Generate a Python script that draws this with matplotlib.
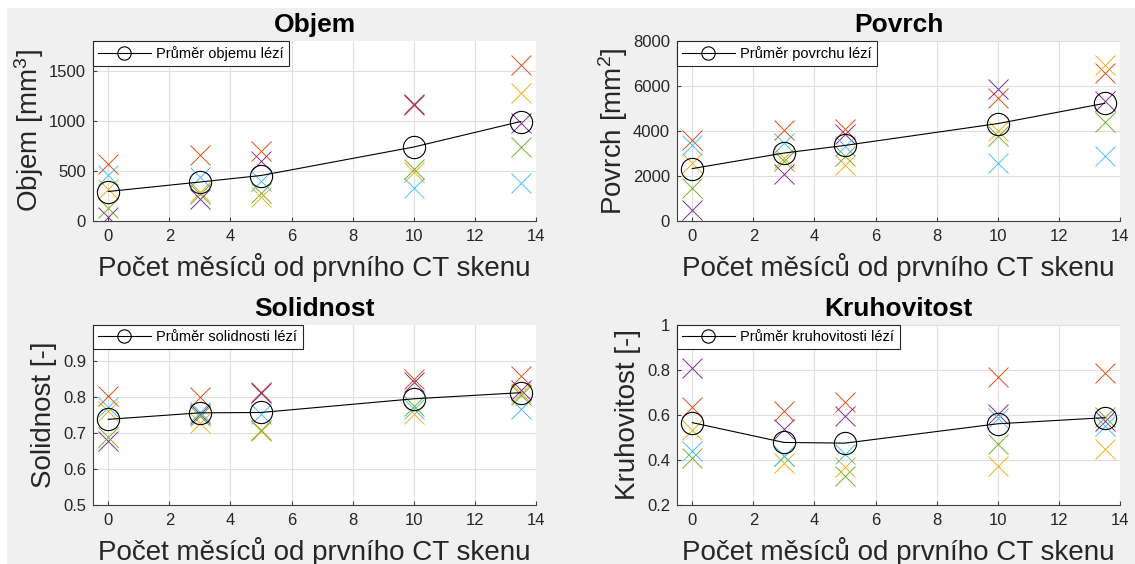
import matplotlib
matplotlib.use("Agg")
import matplotlib.pyplot as plt
from matplotlib.patches import Rectangle

plt.rcParams['font.family'] = ['Liberation Sans', 'DejaVu Sans']
plt.rcParams['mathtext.fontset'] = 'custom'
plt.rcParams['mathtext.rm'] = 'Liberation Sans'
plt.rcParams['mathtext.it'] = 'Liberation Sans'

# months since first CT scan
months = [0, 3, 5, 10, 13.5]

# lesion colours (MATLAB default order, starting at 2nd colour)
lesion_colors = ['#D95319', '#EDB120', '#7E2F8E', '#77AC30', '#4DBEEE']

# Objem [mm^3], one list per lesion
objem = [
    [575, 660, 705, 1160, 1560],
    [325, 290, 240, 490, 1285],
    [45, 225, 605, 1170, 985],
    [135, 270, 285, 520, 740],
    [460, 440, 405, 330, 385],
]
objem_mean = [295, 390, 455, 740, 995]

# Povrch [mm^2]
povrch = [
    [3600, 4050, 4080, 5450, 6600],
    [2600, 2800, 2480, 4000, 6950],
    [480, 2100, 3850, 5850, 5330],
    [1460, 2650, 2880, 3800, 4400],
    [3400, 3450, 3330, 2600, 2900],
]
povrch_mean = [2330, 3020, 3360, 4330, 5230]

# Solidnost [-]
solidnost = [
    [0.802, 0.800, 0.815, 0.850, 0.858],
    [0.760, 0.728, 0.706, 0.752, 0.810],
    [0.678, 0.752, 0.810, 0.843, 0.820],
    [0.690, 0.748, 0.708, 0.775, 0.806],
    [0.772, 0.758, 0.752, 0.768, 0.768],
]
solidnost_mean = [0.738, 0.756, 0.757, 0.795, 0.812]

# Kruhovitost [-]
kruhovitost = [
    [0.635, 0.620, 0.660, 0.768, 0.785],
    [0.535, 0.385, 0.370, 0.372, 0.450],
    [0.810, 0.540, 0.594, 0.605, 0.572],
    [0.410, 0.420, 0.330, 0.470, 0.592],
    [0.440, 0.418, 0.425, 0.588, 0.552],
]
kruhovitost_mean = [0.566, 0.478, 0.475, 0.561, 0.588]

panels = [
    ("Objem", objem, objem_mean, "Objem [mm$^3$]", "Průměr objemu lézí",
     (0, 1800), [0, 500, 1000, 1500], ["0", "500", "1000", "1500"], -0.145),
    ("Povrch", povrch, povrch_mean, "Povrch [mm$^2$]", "Průměr povrchu lézí",
     (0, 8000), [0, 2000, 4000, 6000, 8000],
     ["0", "2000", "4000", "6000", "8000"], -0.145),
    ("Solidnost", solidnost, solidnost_mean, "Solidnost [-]", "Průměr solidnosti lézí",
     (0.5, 1.0), [0.5, 0.6, 0.7, 0.8, 0.9],
     ["0.5", "0.6", "0.7", "0.8", "0.9"], -0.11),
    ("Kruhovitost", kruhovitost, kruhovitost_mean, "Kruhovitost [-]",
     "Průměr kruhovitosti lézí",
     (0.2, 1.0), [0.2, 0.4, 0.6, 0.8, 1.0],
     ["0.2", "0.4", "0.6", "0.8", "1"], -0.11),
]

W, H = 1135, 564
fig = plt.figure(figsize=(W / 100, H / 100), dpi=100, facecolor='white')
fig.patches.append(Rectangle((7 / W, 0), 1, (H - 8) / H, transform=fig.transFigure,
                             facecolor='#f0f0f0', edgecolor='none', zorder=-10))

lefts = [93, 677, 93, 677]
bottoms = [221, 221, 505, 505]
xlabel = "Počet měsíců od prvního CT skenu"

for (title, data, mean, ylab, leg, ylim, yt, ytl, ylx), l, b in zip(panels, lefts, bottoms):
    ax = fig.add_axes([l / W, (H - b) / H, 443 / W, 180 / H])
    ax.set_facecolor('white')
    for vals, c in zip(data, lesion_colors):
        ax.plot(months, vals, linestyle='none', marker='x', markersize=14,
                markeredgewidth=0.7, color=c)
    ax.plot(months, mean, color='black', linewidth=0.8, marker='o', markersize=16,
            markerfacecolor='none', markeredgewidth=0.8, label=leg, zorder=5)

    ax.set_xlim(-0.5, 14)
    ax.set_ylim(*ylim)
    ax.set_xticks(range(0, 15, 2))
    ax.set_yticks(yt)
    ax.set_yticklabels(ytl)
    ax.grid(True, color='#dfdfdf', linewidth=0.8)
    ax.set_axisbelow(True)
    for s in ['top', 'right']:
        ax.spines[s].set_visible(False)
    for s in ['left', 'bottom']:
        ax.spines[s].set_color('#404040')
        ax.spines[s].set_linewidth(0.8)
    ax.tick_params(direction='in', length=3, width=0.8, color='#404040',
                   labelcolor='#262626', labelsize=12)
    ax.tick_params(axis='x', pad=6)
    ax.tick_params(axis='y', pad=5)

    ax.set_title(title, fontsize=19, fontweight='bold', y=1.05, va='baseline', pad=0)
    ax.set_xlabel(xlabel, fontsize=20, color='#262626', va='baseline')
    ax.xaxis.set_label_coords(0.5, -0.308)
    ax.set_ylabel(ylab, fontsize=20, color='#262626', va='center')
    ax.yaxis.set_label_coords(ylx, 0.5)

    lg = ax.legend(loc='upper left', bbox_to_anchor=(0, 1), borderaxespad=0,
                   fontsize=10.5, fancybox=False, framealpha=1, edgecolor='#262626',
                   handlelength=3.6, handletextpad=0.4, borderpad=0.35,
                   markerscale=0.6)
    lg.get_frame().set_linewidth(0.8)

fig.savefig("out.png", dpi=100)
